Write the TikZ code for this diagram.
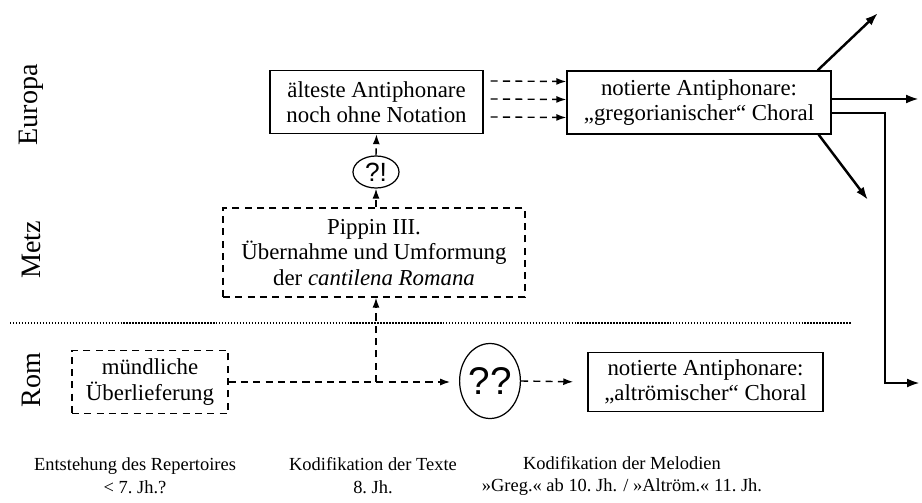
\documentclass[tikz,border=0pt]{standalone}
\usepackage{fontspec}
\setmainfont{Liberation Serif}
\newfontfamily\qfont{Liberation Sans}
\usetikzlibrary{arrows.meta,positioning,calc,shapes.geometric}

\begin{document}
\begin{tikzpicture}[x=0.02cm, y=-0.02cm,
    box/.style={draw, line width=0.8pt, align=center, inner sep=0pt,
      font=\fontsize{13}{14.5}\selectfont},
    dbox/.style={box, dash pattern=on 4pt off 3pt},
    frage/.style={draw, ellipse, line width=0.7pt, inner sep=0pt},
    pfeil/.style={line width=1.4pt, -{Latex[length=2.6mm,width=1.8mm]}},
    dpfeil/.style={line width=0.8pt, dash pattern=on 4pt off 3pt,
      -{Latex[length=2mm,width=1.4mm]}},
    ort/.style={rotate=90, font=\fontsize{16}{18}\selectfont},
    zeit/.style={align=center, font=\fontsize{10.5}{13}\selectfont}
  ]
  \useasboundingbox (0,0) rectangle (922,503);

  % Orte
  \node[ort] (europa) at (31,105) {Europa};
  \node[ort] (metz) at (31,250) {Metz};
  \node[ort] (rom) at (31,380) {Rom};

  % Grenze
  \coordinate (gl) at (10,323);
  \coordinate (gr) at (852,323);
  \draw[line width=0.8pt, dash pattern=on 0.8pt off 0.9pt] (gl) -- (gr);

  % Kaesten
  \node[box, minimum width=4.26cm, minimum height=1.26cm] (alt) at (376.5,102)
    {älteste Antiphonare\\noch ohne Notation};
  \node[box, minimum width=5.28cm, minimum height=1.26cm] (greg) at (699,102.5)
    {notierte Antiphonare:\\„gregorianischer“ Choral};
  \node[frage, minimum width=0.92cm, minimum height=0.64cm,
    font=\qfont\fontsize{15}{15}\selectfont] (fa) at (376,172) {?!};
  \node[dbox, minimum width=6.04cm, minimum height=1.78cm] (pippin) at (374,252.5)
    {Pippin III.\\Übernahme und Umformung\\der \textit{cantilena Romana}};
  \node[dbox, minimum width=3.12cm, minimum height=1.26cm] (muend) at (150,382)
    {mündliche\\Überlieferung};
  \node[frage, minimum width=1.2cm, minimum height=1.5cm,
    font=\qfont\fontsize{22}{22}\selectfont] (fb) at (490,381) {??};
  \node[box, minimum width=4.7cm, minimum height=1.18cm] (altr) at (705.5,382)
    {notierte Antiphonare:\\„altrömischer“ Choral};

  % gestrichelte Verbindungen
  \foreach \dy in {-21,-3,15}
    \draw[dpfeil] ($(alt.east)+(7,\dy)$) -- ($(greg.west)+(0,\dy)$);
  \draw[dpfeil] (fa.north) -- (alt.south);
  \draw[dpfeil] (fa.south |- pippin.north) -- (fa.south);
  \coordinate (j) at (muend.east -| fa.south);
  \draw[dpfeil, shorten >=5pt] (muend.east) -- (muend.east -| fb.west);
  \draw[dpfeil] (j) -- (pippin.south -| j);
  \draw[dpfeil, shorten >=8pt] (fb.east) -- (altr.west);

  % Ausbreitung
  \coordinate (o1) at (878,13);
  \coordinate (o2) at (919,99);
  \coordinate (o3) at (868,200);
  \coordinate (knick) at (885,113);
  \coordinate (o4) at (920,383);
  \draw[pfeil] ($(greg.north east)+(-14,0)$) -- (o1);
  \draw[pfeil] (greg.east |- o2) -- (o2);
  \draw[pfeil] ($(greg.south east)+(-13,0)$) -- (o3);
  \draw[pfeil] (greg.east |- knick) -- (knick) |- (o4);

  % Zeitachse
  \node[zeit] (z1) at (135,476) {Entstehung des Repertoires\\< 7.~Jh.?};
  \node[zeit] (z2) at (373,476) {Kodifikation der Texte\\8.~Jh.};
  \node[zeit] (z3) at (622,476)
    {Kodifikation der Melodien\\»Greg.« ab 10.~Jh. / »Altröm.« 11.~Jh.};
\end{tikzpicture}
\end{document}
